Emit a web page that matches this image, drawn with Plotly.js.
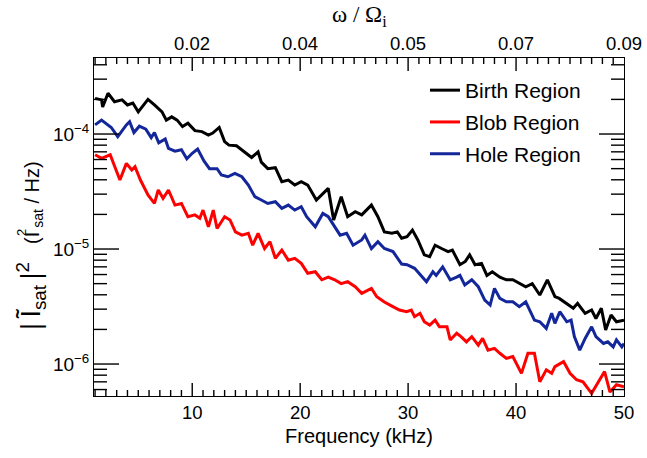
<!DOCTYPE html>
<html>
<head>
<meta charset="utf-8">
<script src="https://cdn.plot.ly/plotly-3.0.1.min.js"></script>
<style>html,body{margin:0;padding:0;background:#fff}#chart{width:647px;height:458px}</style>
</head>
<body>
<div id="chart"></div>
<script>
// Frequency (kHz) and power spectral density readings for each region
const birthFreq = [1.0,1.6,1.7,2.2,2.8,3.5,4.0,4.5,5.0,5.9,6.5,7.2,7.6,8.1,8.6,9.1,9.6,10.25,10.9,11.5,11.9,12.5,13.0,13.4,14.1,14.8,15.5,16.1,16.4,17.0,17.7,18.3,18.9,19.5,20.1,20.7,21.5,22.6,23.1,23.8,24.4,25.1,25.7,26.6,27.2,27.8,28.5,29.0,29.4,29.9,30.4,30.9,31.5,32.0,32.5,33.1,33.7,34.1,34.8,35.3,35.7,36.2,36.8,37.3,37.8,38.5,39.1,39.7,40.3,40.9,41.5,42.2,42.9,43.6,44.0,44.7,45.3,45.7,46.4,47.0,47.4,47.9,48.3,48.8,49.3,50.0];
const birthPSD  = [2.04e-4,1.98e-4,1.72e-4,2.26e-4,1.91e-4,1.98e-4,1.79e-4,1.86e-4,1.56e-4,2.00e-4,1.79e-4,1.56e-4,1.32e-4,1.41e-4,1.32e-4,1.16e-4,1.24e-4,1.07e-4,1.05e-4,9.8e-5,1.02e-4,1.14e-4,8.6e-5,8.0e-5,7.9e-5,7.0e-5,6.25e-5,7.0e-5,5.7e-5,5.0e-5,5.1e-5,3.85e-5,3.98e-5,3.6e-5,3.85e-5,3.6e-5,2.67e-5,3.37e-5,1.79e-5,2.85e-5,1.91e-5,2.11e-5,1.98e-5,2.41e-5,1.91e-5,1.41e-5,1.37e-5,1.41e-5,1.24e-5,1.28e-5,1.46e-5,1.20e-5,8.9e-6,8.6e-6,1.08e-5,1.01e-5,9.5e-6,9.8e-6,7.3e-6,7.8e-6,8.9e-6,7.3e-6,7.5e-6,5.9e-6,6.35e-6,5.7e-6,5.4e-6,5.4e-6,5.0e-6,4.7e-6,5.0e-6,3.98e-6,5.4e-6,3.85e-6,3.72e-6,3.37e-6,3.05e-6,3.37e-6,2.76e-6,2.95e-6,2.49e-6,3.05e-6,1.98e-6,2.67e-6,2.33e-6,2.41e-6];

const blobFreq = [1.0,1.6,2.4,2.8,3.3,3.9,4.4,4.7,5.2,5.9,6.5,6.85,7.3,7.8,8.4,9.0,9.6,10.25,10.7,11.0,11.5,11.95,12.3,13.0,13.5,14.0,14.6,15.2,15.6,16.1,16.7,17.2,17.7,18.3,18.9,19.5,20.1,20.7,21.4,22.0,22.6,23.2,23.8,24.4,25.1,25.7,26.3,26.6,27.1,27.8,28.5,29.2,29.85,30.3,30.6,31.1,31.5,32.0,32.5,32.9,33.6,33.9,34.5,34.9,35.4,35.9,36.5,36.9,37.4,38.0,38.5,39.1,39.7,40.5,41.1,41.7,42.2,42.8,43.3,43.6,44.4,45.0,45.6,46.2,47.0,47.6,48.2,48.7,49.3,50.0];
const blobPSD  = [6.6e-5,6.15e-5,6.6e-5,5.2e-5,3.98e-5,5.56e-5,4.86e-5,5.2e-5,3.98e-5,2.95e-5,2.49e-5,3.26e-5,2.76e-5,3.26e-5,2.41e-5,2.49e-5,1.91e-5,1.98e-5,1.85e-5,2.18e-5,1.56e-5,2.18e-5,1.51e-5,1.91e-5,1.79e-5,1.41e-5,1.32e-5,1.37e-5,1.08e-5,1.37e-5,1.01e-5,1.16e-5,8.3e-6,9.8e-6,8.0e-6,8.3e-6,7.5e-6,6.15e-6,6.35e-6,5.4e-6,5.7e-6,5.4e-6,5.0e-6,5.2e-6,4.7e-6,4.12e-6,4.4e-6,4.55e-6,3.85e-6,3.46e-6,3.19e-6,2.95e-6,2.85e-6,2.95e-6,2.58e-6,2.76e-6,2.33e-6,2.18e-6,2.41e-6,2.11e-6,2.11e-6,1.62e-6,1.85e-6,1.73e-6,1.56e-6,1.73e-6,1.46e-6,1.67e-6,1.32e-6,1.37e-6,1.24e-6,1.12e-6,1.16e-6,8.3e-7,1.24e-6,1.24e-6,7.0e-7,8.9e-7,8.3e-7,9.5e-7,1.05e-6,8.3e-7,7.3e-7,7.0e-7,5.56e-7,7.0e-7,8.6e-7,5.7e-7,6.6e-7,6.35e-7];

const holeFreq = [1.0,1.6,2.5,3.1,3.9,4.2,4.6,5.1,5.7,6.2,6.5,6.9,7.5,7.8,8.4,9.0,9.5,10.0,10.5,11.1,11.6,12.3,12.7,13.3,13.95,14.6,15.2,15.8,16.4,17.0,17.7,18.3,18.9,19.5,20.1,20.6,21.4,22.1,22.6,23.2,23.7,24.3,24.9,25.7,26.0,26.6,27.2,27.8,28.6,29.4,29.9,30.6,31.2,31.7,32.3,32.6,33.2,33.9,34.5,34.8,35.25,35.9,36.5,37.1,37.6,38.0,38.5,39.1,39.7,40.3,40.9,41.7,42.2,42.8,43.3,43.6,44.05,44.7,45.1,45.4,45.9,46.4,47.0,47.4,48.1,48.5,49.0,49.3,49.8,50.0];
const holePSD  = [1.20e-4,1.32e-4,1.14e-4,9.5e-5,1.20e-4,1.28e-4,1.03e-4,1.17e-4,1.10e-4,9.3e-5,1.03e-4,8.4e-5,9.05e-5,7.5e-5,7.1e-5,7.3e-5,6.1e-5,6.8e-5,7.4e-5,5.8e-5,5.0e-5,5.0e-5,4.4e-5,4.25e-5,4.55e-5,4.25e-5,3.6e-5,2.85e-5,2.67e-5,2.49e-5,2.58e-5,2.26e-5,2.41e-5,2.18e-5,2.33e-5,1.91e-5,1.56e-5,2.04e-5,1.91e-5,1.56e-5,1.32e-5,1.37e-5,1.08e-5,1.20e-5,1.32e-5,1.01e-5,1.16e-5,1.01e-5,9.5e-6,7.4e-6,7.3e-6,6.8e-6,5.9e-6,5.2e-6,6.35e-6,5.9e-6,7.0e-6,5.4e-6,5.7e-6,5.9e-6,4.86e-6,5.4e-6,4.7e-6,3.6e-6,3.26e-6,4.55e-6,3.72e-6,3.48e-6,3.48e-6,3.15e-6,3.48e-6,2.41e-6,2.33e-6,2.04e-6,2.76e-6,2.26e-6,2.85e-6,2.33e-6,2.41e-6,1.73e-6,1.32e-6,1.67e-6,2.11e-6,1.73e-6,1.51e-6,1.56e-6,1.41e-6,1.62e-6,1.41e-6,1.51e-6];

const seriesNames = ['Birth Region', 'Blob Region', 'Hole Region'];
const freqTicks = [10, 20, 30, 40, 50];
const omegaTickText = ['0.02', '0.04', '0.05', '0.07', '0.09'];
const psdDecades = [1e-6, 1e-5, 1e-4];
const psdTickText = ['10<sup>−6</sup>', '10<sup>−5</sup>', '10<sup>−4</sup>'];

const font = 'Liberation Sans, Arial, sans-serif';
const colors = ['#000000', '#ff0000', '#13279a'];
const xs = [birthFreq, blobFreq, holeFreq];
const ys = [birthPSD, blobPSD, holePSD];

const traces = seriesNames.map((n, i) => ({
  x: xs[i], y: ys[i], name: n, type: 'scatter', mode: 'lines',
  line: {color: colors[i], width: 3}, legendgroup: 'g' + i
}));

const xr = [0.9, 50];
const yr = [-6.278, -3.339];
const px2paperX = p => (p - 94) / 530;
const px2paperY = p => (396 - p) / 338;

// tick marks (drawn as shapes, inward, on all four sides)
const shapes = [];
const tickLine = {color: '#000', width: 1.4};
const xMinor = [];
for (let f = 1; f <= 49; f++) if (f % 10 !== 0) xMinor.push(f);
function xTick(f, len) {
  shapes.push({type: 'line', xref: 'x', yref: 'paper', ysizemode: 'pixel', yanchor: 0,
    x0: f, x1: f, y0: 0, y1: len, line: tickLine, layer: 'above'});
  shapes.push({type: 'line', xref: 'x', yref: 'paper', ysizemode: 'pixel', yanchor: 1,
    x0: f, x1: f, y0: 0, y1: -len, line: tickLine, layer: 'above'});
}
xMinor.forEach(f => xTick(f, 6));
freqTicks.slice(0, 4).forEach(f => xTick(f, 13));
const yMinor = [];
[1e-7, 1e-6, 1e-5, 1e-4].forEach(d => { for (let k = 2; k <= 9; k++) {
  const v = k * d; const lv = Math.log10(v);
  if (lv > yr[0] && lv < yr[1]) yMinor.push(v); } });
function yTick(v, len) {
  shapes.push({type: 'line', xref: 'paper', yref: 'y', xsizemode: 'pixel', xanchor: 0,
    x0: 0, x1: len, y0: v, y1: v, line: tickLine, layer: 'above'});
  shapes.push({type: 'line', xref: 'paper', yref: 'y', xsizemode: 'pixel', xanchor: 1,
    x0: 0, x1: -len, y0: v, y1: v, line: tickLine, layer: 'above'});
}
yMinor.forEach(v => yTick(v, 13));
psdDecades.forEach(v => yTick(v, 25));

const topLabels = freqTicks.map((f, i) => ({
  xref: 'x', yref: 'paper', x: f, y: 1, yanchor: 'bottom', xanchor: 'center', yshift: 2,
  showarrow: false, text: omegaTickText[i], font: {size: 18.5}
}));

const layout = {
  width: 647, height: 458,
  margin: {l: 94, r: 23, t: 58, b: 62},
  paper_bgcolor: '#fff', plot_bgcolor: 'rgba(0,0,0,0)',
  font: {family: font, size: 18, color: '#000'},
  showlegend: true,
  legend: {x: px2paperX(425), y: px2paperY(70), xanchor: 'left', yanchor: 'top', bgcolor: 'rgba(0,0,0,0)',
    font: {size: 21, family: font}, traceorder: 'grouped', tracegroupgap: 1.5},
  xaxis: {
    range: xr, showline: true, linecolor: '#000', linewidth: 1, mirror: true,
    showgrid: false, zeroline: false, ticks: '',
    tickvals: freqTicks, ticktext: freqTicks.map(String),
    tickfont: {size: 18.5},
    title: {text: 'Frequency (kHz)', font: {size: 20}, standoff: 6}
  },
  yaxis: {
    type: 'log', range: yr, tickvals: psdDecades, ticktext: psdTickText,
    showline: true, linecolor: '#000', linewidth: 1, mirror: true,
    showgrid: false, zeroline: false, ticks: '',
    tickfont: {size: 19}
  },
  shapes: shapes,
  annotations: topLabels.concat([
    {xref: 'paper', yref: 'paper', x: 0.5, y: 1, yanchor: 'bottom', xanchor: 'center', yshift: 26,
     showarrow: false, text: 'ω / Ω<sub>i</sub>', font: {size: 23, family: 'Liberation Serif, Times New Roman, serif'}},
    {xref: 'paper', yref: 'paper', x: px2paperX(31), y: px2paperY(296), textangle: -90,
     xanchor: 'center', yanchor: 'middle', showarrow: false,
     text: '|\u2009I\u0303<sub>sat</sub>\u2009|<sup>2</sup>', font: {size: 27}},
    {xref: 'paper', yref: 'paper', x: px2paperX(33), y: px2paperY(203), textangle: -90,
     xanchor: 'center', yanchor: 'middle', showarrow: false,
     text: '(I\u2009<sub>sat</sub>\u00a0/\u00a0Hz)', font: {size: 20}},
    {xref: 'paper', yref: 'paper', x: px2paperX(21), y: px2paperY(233), textangle: -90,
     xanchor: 'center', yanchor: 'middle', showarrow: false,
     text: '2', font: {size: 13}}
  ])
};

Plotly.newPlot('chart', traces, layout, {displayModeBar: false});
</script>
</body>
</html>
